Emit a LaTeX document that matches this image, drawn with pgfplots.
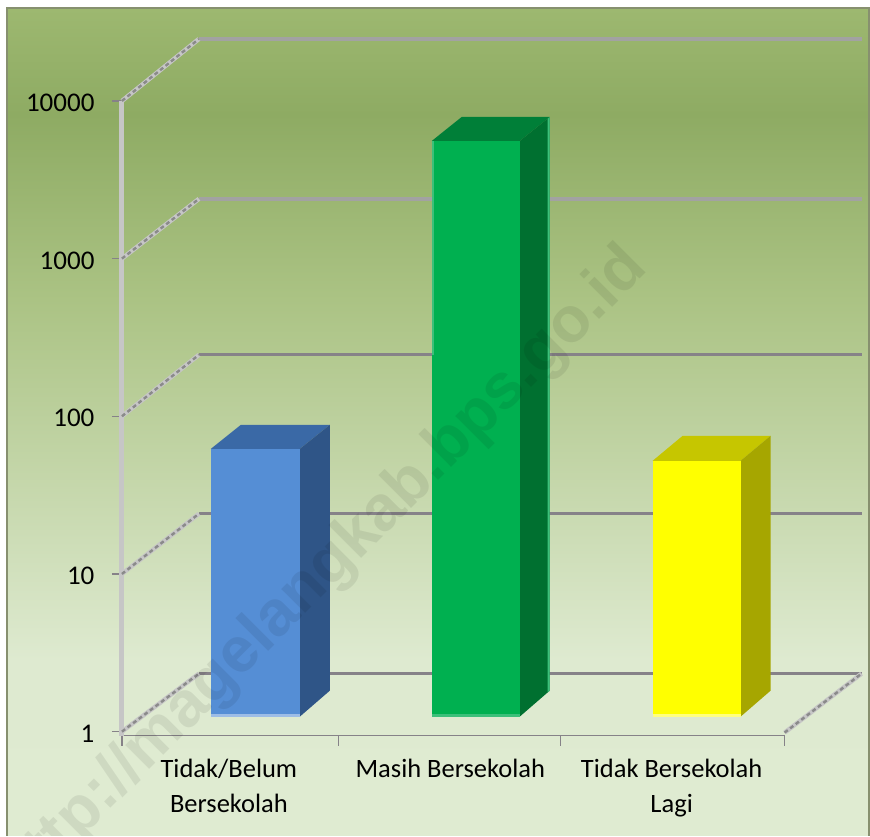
\documentclass[border=0pt]{standalone}
\usepackage{fontspec}
\setmainfont{Carlito}
\newfontfamily\wmfont{Liberation Sans}
\usepackage{pgfplots}
\pgfplotsset{compat=1.18}
\definecolor{bgA}{HTML}{9DB870}
\definecolor{bgB}{HTML}{8EAB63}
\definecolor{bgC}{HTML}{ABC384}
\definecolor{bgD}{HTML}{DEEAD0}
\definecolor{bgE}{HTML}{DFEBD1}
\definecolor{frameC}{HTML}{87906F}
\definecolor{gridT}{HTML}{A2A2A2}
\definecolor{gridB}{HTML}{868288}
\definecolor{diagL}{HTML}{C6C6C6}
\definecolor{diagD}{HTML}{8A8A8A}
\definecolor{blF}{HTML}{558ED5}
\definecolor{blS}{HTML}{2F5587}
\definecolor{blT}{HTML}{3A69A6}
\definecolor{blH}{HTML}{9DBDE6}
\definecolor{grF}{HTML}{00B050}
\definecolor{grS}{HTML}{007030}
\definecolor{grT}{HTML}{007F38}
\definecolor{grH}{HTML}{3CC07A}
\definecolor{yeF}{HTML}{FFFF00}
\definecolor{yeS}{HTML}{A6A600}
\definecolor{yeT}{HTML}{C6C600}
\definecolor{yeH}{HTML}{FFFF80}
\begin{document}
\begin{tikzpicture}[x=1pt,y=1pt]
\fill[white] (0,0) rectangle (870,836);
\shade[top color=bgA,bottom color=bgB] (7,828) rectangle (870,721);
\shade[top color=bgB,bottom color=bgC] (7,721.2) rectangle (870,536);
\shade[top color=bgC,bottom color=bgD] (7,536.2) rectangle (870,176);
\shade[top color=bgD,bottom color=bgE] (7,176.2) rectangle (870,0);
\draw[frameC,line width=2.5pt] (7,0) -- (7,828) -- (869.2,828) -- (869.2,0);
\begin{axis}[
  at={(122pt,100pt)}, anchor=south west,
  scale only axis, width=663pt, height=635pt,
  clip=false,
  ymode=log,
  xmin=-0.4831, xmax=2.5102,
  ymin=0.9433, ymax=10000,
  axis x line=bottom, axis y line=left,
  x axis line style={-,color=gridB,line width=1.6pt},
  y axis line style={-,color=diagL,line width=5pt},
  xtick={0,1,2},
  xticklabels={{Tidak/Belum\\Bersekolah},{Masih Bersekolah},{Tidak Bersekolah\\Lagi}},
  x tick label style={align=center,font=\fontsize{26.5}{35}\selectfont,yshift=-10pt},
  major x tick style={draw=none},
  minor xtick={-0.4831,0.4966,1.4989,2.5102},
  minor x tick style={color=gridB,line width=1.2pt},
  minor tick length=10pt,
  ytick={1,10,100,1000,10000},
  yminorticks=false,
  log ticks with fixed point,
  /pgf/number format/1000 sep={},
  /pgf/number format/assume math mode=true,
  y tick label style={font=\fontsize{27}{30}\selectfont,xshift=-14pt,yshift=-2pt},
  major y tick style={color=gridB,line width=1.2pt},
  major tick length=10pt,
  tick align=outside,
]
% back wall grid lines
\addplot[gridT,line width=3.4pt] coordinates {(-0.1354,24720) (2.8578,24720)};
\addplot[gridT,line width=3.4pt] coordinates {(-0.1354,2392) (2.8578,2392)};
\addplot[gridB,line width=3pt] coordinates {(-0.1354,245.4) (2.8578,245.4)};
\addplot[gridB,line width=3pt] coordinates {(-0.1354,24.09) (2.8578,24.09)};
\addplot[gridB,line width=3pt] coordinates {(-0.1354,2.332) (2.8578,2.332)};
% side wall and floor diagonals
\addplot[diagL,line width=4.4pt] coordinates {(-0.4831,10000) (-0.1354,24720)};
\addplot[diagD,line width=2.4pt,dash pattern=on 4pt off 3pt] coordinates {(-0.4831,10000) (-0.1354,24720)};
\addplot[diagL,line width=4.4pt] coordinates {(-0.4831,1000) (-0.1354,2392)};
\addplot[diagD,line width=2.4pt,dash pattern=on 4pt off 3pt] coordinates {(-0.4831,1000) (-0.1354,2392)};
\addplot[diagL,line width=4.4pt] coordinates {(-0.4831,100) (-0.1354,245.4)};
\addplot[diagD,line width=2.4pt,dash pattern=on 4pt off 3pt] coordinates {(-0.4831,100) (-0.1354,245.4)};
\addplot[diagL,line width=4.4pt] coordinates {(-0.4831,10) (-0.1354,24.09)};
\addplot[diagD,line width=2.4pt,dash pattern=on 4pt off 3pt] coordinates {(-0.4831,10) (-0.1354,24.09)};
\addplot[diagL,line width=4.4pt] coordinates {(-0.4831,1) (-0.1354,2.332)};
\addplot[diagD,line width=2.4pt,dash pattern=on 4pt off 3pt] coordinates {(-0.4831,1) (-0.1354,2.332)};
\addplot[diagL,line width=4.4pt] coordinates {(2.5102,0.9855) (2.8578,2.332)};
\addplot[diagD,line width=2.4pt,dash pattern=on 4pt off 3pt] coordinates {(2.5102,0.9855) (2.8578,2.332)};
% Tidak/Belum Bersekolah
\addplot[fill=blT,draw=none] coordinates {(-0.0813,62.2) (0.0542,88.3) (0.4560,88.3) (0.3205,62.2)} -- cycle;
\addplot[fill=blS,draw=none] coordinates {(0.3205,1.2447) (0.4560,1.819) (0.4560,88.3) (0.3205,62.2)} -- cycle;
\addplot[fill=blF,draw=none] coordinates {(-0.0813,1.2447) (0.3205,1.2447) (0.3205,62.2) (-0.0813,62.2)} -- cycle;
\addplot[fill=blH,draw=none] coordinates {(-0.0813,1.2447) (0.3205,1.2447) (0.3205,1.30) (-0.0813,1.30)} -- cycle;
% Masih Bersekolah
\addplot[fill=grT,draw=none] coordinates {(0.9165,5577) (1.0519,7919) (1.4492,7919) (1.3138,5577)} -- cycle;
\addplot[fill=grS,draw=none] coordinates {(1.3138,1.2447) (1.4492,1.819) (1.4492,7919) (1.3138,5577)} -- cycle;
\addplot[fill=grF,draw=none] coordinates {(0.9165,1.2447) (1.3138,1.2447) (1.3138,5577) (0.9165,5577)} -- cycle;
\addplot[fill=grH,draw=none] coordinates {(0.9165,1.2447) (1.3138,1.2447) (1.3138,1.30) (0.9165,1.30)} -- cycle;
\addplot[fill=grH,draw=none] coordinates {(0.9165,245.4) (0.9255,245.4) (0.9255,5577) (0.9165,5577)} -- cycle;
\addplot[fill=grH,draw=none] coordinates {(1.4402,1.78) (1.4492,1.819) (1.4492,7919) (1.4402,7700)} -- cycle;
% Tidak Bersekolah Lagi
\addplot[fill=yeT,draw=none] coordinates {(1.9142,52.2) (2.0497,75.2) (2.4470,75.2) (2.3115,52.2)} -- cycle;
\addplot[fill=yeS,draw=none] coordinates {(2.3115,1.2447) (2.4470,1.819) (2.4470,75.2) (2.3115,52.2)} -- cycle;
\addplot[fill=yeF,draw=none] coordinates {(1.9142,1.2447) (2.3115,1.2447) (2.3115,52.2) (1.9142,52.2)} -- cycle;
\addplot[fill=yeH,draw=none] coordinates {(1.9142,1.2447) (2.3115,1.2447) (2.3115,1.30) (1.9142,1.30)} -- cycle;
\end{axis}
\begin{scope}
\clip (0,0) rectangle (870,836);
\node[rotate=45,anchor=base east,text=black,opacity=0.075,inner sep=0pt,font=\fontsize{64}{66}\selectfont\bfseries\wmfont] at (650,566) {http://magelangkab.bps.go.id};
\end{scope}
\end{tikzpicture}
\end{document}
